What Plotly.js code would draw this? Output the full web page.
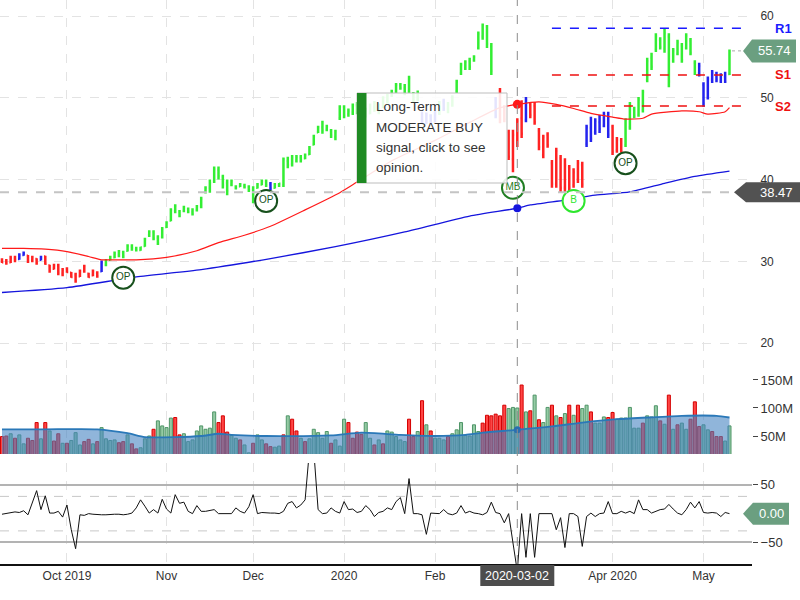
<!DOCTYPE html>
<html>
<head>
<meta charset="utf-8">
<script src="https://cdn.plot.ly/plotly-3.0.1.min.js"></script>
<style>
  html, body { margin: 0; padding: 0; background: #fff; }
  #chart { width: 800px; height: 600px; }
</style>
</head>
<body>
<div id="chart"></div>
<script>
// trading days, Sep 10 2019 .. May 11 2020 (exchange holidays skipped)
const holidays = ["2019-11-28", "2019-12-25", "2020-01-01", "2020-01-20", "2020-02-17", "2020-04-10"];
const dates = [];
(function () {
  const d = new Date(Date.UTC(2019, 8, 10));
  const end = Date.UTC(2020, 4, 11);
  while (d.getTime() <= end) {
    const s = d.toISOString().slice(0, 10);
    const wd = d.getUTCDay();
    if (wd !== 0 && wd !== 6 && holidays.indexOf(s) < 0) dates.push(s);
    d.setUTCDate(d.getUTCDate() + 1);
  }
})();

// price bars
const high = [
  30.4,30.3,30.7,30.7,31.0,31.2,30.8,30.7,30.4,30.7,
  30.7,29.6,29.7,29.7,29.2,29.3,28.7,28.6,29.0,29.6,
  28.6,29.0,28.8,30.1,30.3,30.7,31.2,31.4,31.3,32.1,
  32.1,31.8,31.8,32.9,33.8,33.8,33.2,34.2,34.9,36.5,
  37.0,36.3,36.8,36.6,36.5,36.9,37.9,39.2,40.0,41.6,
  41.6,40.6,40.0,40.0,39.3,39.6,39.5,39.3,39.2,39.6,
  40.0,40.0,39.7,39.6,39.6,42.7,42.8,43.0,43.0,43.0,
  43.2,44.1,45.5,46.6,47.2,46.7,46.2,46.1,49.1,49.1,
  48.7,49.3,49.5,49.0,48.8,49.3,49.6,49.3,50.2,50.5,
  51.0,51.8,51.8,51.7,52.7,50.7,50.9,48.3,48.2,48.0,
  48.4,49.6,49.9,49.5,50.3,52.2,54.3,54.6,54.9,55.2,
  58.1,59.1,58.9,56.7,50.1,51.2,49.1,46.1,46.1,47.5,
  49.7,50.1,49.5,49.5,46.3,45.5,45.8,42.4,43.9,43.0,
  42.6,41.8,41.4,42.4,42.2,46.7,47.7,47.5,47.9,48.3,
  48.3,46.7,45.2,45.1,47.5,49.5,48.9,50.1,51.0,54.9,
  55.5,57.9,57.4,58.5,57.9,56.1,57.1,56.7,57.9,57.3,
  54.6,54.3,51.9,52.6,53.4,53.2,53.0,53.2,55.9
];
const low = [
  29.8,29.6,29.8,29.9,30.2,30.7,29.8,29.9,29.6,30.1,
  29.6,28.6,29.0,28.3,28.2,28.6,28.0,27.4,28.1,28.6,
  28.0,28.2,28.0,28.7,29.4,30.1,30.4,30.5,30.4,31.2,
  31.3,31.2,31.3,31.8,33.0,32.6,32.0,32.8,34.1,34.9,
  35.9,35.4,36.0,35.9,35.6,36.1,36.5,38.3,38.4,39.6,
  40.0,38.9,38.1,39.2,38.8,39.1,38.9,38.5,37.1,38.9,
  39.3,39.1,38.7,38.9,39.1,39.1,41.4,41.6,42.1,42.1,
  42.5,43.0,44.2,45.7,45.6,45.9,45.1,44.8,47.3,47.5,
  47.7,47.9,48.0,47.8,47.6,48.0,48.3,48.0,48.8,49.3,
  50.1,50.6,51.0,50.3,50.6,49.5,49.6,46.9,46.8,46.7,
  47.0,47.9,48.4,48.1,48.9,50.6,52.8,53.4,53.4,54.4,
  55.9,57.1,56.1,52.8,47.5,46.9,47.0,42.4,40.9,44.0,
  45.1,47.0,47.5,46.7,43.6,42.6,43.9,39.0,39.0,38.5,
  38.4,38.5,39.0,39.6,39.0,44.0,44.6,45.5,45.7,46.4,
  45.1,43.0,43.3,43.3,44.0,46.1,47.5,47.7,48.2,51.9,
  53.4,55.6,55.9,55.5,51.3,54.3,55.2,54.3,55.9,55.2,
  52.8,52.6,48.9,49.8,51.8,51.9,51.8,51.8,52.8
];
const open = [
  30.2,30.0,29.9,30.4,30.3,30.8,30.7,30.1,30.3,30.2,
  30.6,29.5,29.1,29.5,28.5,29.1,28.6,28.3,28.2,28.8,
  28.5,28.3,28.6,28.8,29.6,30.2,30.5,30.8,31.1,31.3,
  31.8,31.5,31.4,31.9,33.2,33.6,32.9,33.0,34.2,35.0,
  36.2,36.1,36.2,36.4,36.0,36.3,36.7,38.5,39.0,39.8,
  41.2,40.3,39.6,39.4,39.1,39.2,39.2,39.1,38.8,39.0,
  39.4,39.8,39.4,39.0,39.3,39.3,42.3,41.9,42.3,42.7,
  42.6,43.1,44.3,45.8,46.4,46.1,46.0,45.2,47.5,48.9,
  48.0,48.2,49.1,48.2,48.6,48.1,48.9,49.2,48.9,49.6,
  50.3,50.8,51.5,51.2,50.8,50.5,49.8,48.1,47.0,47.8,
  47.1,48.1,49.5,48.6,49.1,50.8,53.0,53.6,54.5,54.6,
  56.1,57.5,58.7,56.3,49.8,50.8,48.8,45.8,42.5,44.5,
  47.5,47.3,49.2,49.0,46.0,43.0,45.5,42.0,39.5,42.6,
  39.0,41.5,39.3,40.0,41.8,44.4,46.3,45.8,47.0,46.6,
  48.0,46.4,43.6,44.8,44.2,46.4,48.6,47.9,48.5,52.2,
  54.9,55.9,57.1,56.0,57.5,54.5,55.4,56.4,56.1,57.0,
  54.3,53.0,51.6,50.0,52.2,53.0,52.1,52.6,52.9
];
const close = [
  29.9,29.8,30.4,30.2,30.8,31.0,30.0,30.5,29.8,30.5,
  29.7,28.8,29.5,28.6,29.0,28.7,28.1,27.6,28.8,29.4,
  28.1,28.8,28.2,29.9,30.1,30.5,31.0,31.2,30.6,31.9,
  31.6,31.4,31.7,32.7,33.6,32.8,32.2,34.0,34.7,36.3,
  36.8,35.6,36.6,36.1,35.8,36.7,37.7,39.0,39.6,41.3,
  40.4,39.3,38.6,39.8,39.0,39.4,39.1,38.7,37.6,39.4,
  39.8,39.3,38.9,39.4,39.5,42.5,41.8,42.7,42.8,42.4,
  43.0,43.9,45.3,46.4,46.0,46.5,45.4,45.9,48.9,47.8,
  48.4,49.1,48.3,48.6,47.9,49.0,49.4,48.3,50.0,50.3,
  50.8,51.6,51.2,50.6,52.4,49.8,50.6,47.2,47.9,47.0,
  48.1,49.4,48.7,49.2,50.1,52.0,54.0,54.4,53.8,55.0,
  57.8,58.9,56.6,53.3,47.8,47.3,47.4,42.8,45.5,47.2,
  45.6,49.8,47.9,47.0,44.0,45.2,44.2,39.5,43.5,39.0,
  41.8,39.0,40.9,42.0,39.4,46.4,45.0,47.2,46.2,48.0,
  45.5,43.4,44.9,43.5,47.3,49.2,47.8,49.8,50.7,54.5,
  53.8,57.5,56.2,57.9,52.0,55.8,56.8,54.6,57.6,55.5,
  53.1,53.9,49.3,52.3,53.1,52.2,52.8,52.0,55.74
];
// trend colour of each bar: g = bullish, r = bearish, b = neutral
const trend =
  "rrrrbbrrrb" + "rrrrrrrrrr" + "rrrbgggggg" + "gggggggggg" + "gggggggggg" +
  "gggggggggg" + "ggbggggggg" + "gggggggggg" + "gggggggggg" + "gggggggbbb" +
  "bgbggggggg" + "ggggbrrrrr" + "rbrrrrrrrr" + "rrrrrbbbbb" + "brrrgggggg" +
  "gggggggggg" + "gbbbbbbbg";

// volume in millions, and up / down day
const volume = [
  49,50,54,46,52,36,46,42,74,45,
  74,59,41,54,37,37,42,56,34,40,
  44,36,40,65,45,42,43,38,40,52,
  36,27,29,45,50,62,77,68,65,82,
  83,52,54,40,43,59,68,62,64,93,
  74,86,57,51,46,43,34,20,37,52,
  43,36,31,30,32,52,86,80,59,46,
  40,45,62,56,46,58,37,43,32,80,
  74,46,57,53,74,46,34,43,36,59,
  57,49,43,40,80,49,58,113,70,59,
  46,46,43,49,54,61,74,51,50,70,
  58,73,87,86,89,86,105,99,101,100,
  141,93,95,123,79,74,101,105,86,83,
  90,105,87,105,99,105,93,73,73,84,
  83,92,80,82,82,101,64,64,73,86,
  84,104,77,71,123,62,70,73,62,80,
  111,67,70,61,58,49,49,41,68
];
const volDir =
  "rrgrggrrrg" + "rgrrgrgggr" + "rgrggggrrg" + "rrgggrgggg" + "rrgggggggg" +
  "rrrggrggrg" + "grrggrgrrg" + "rgggggrggg" + "rrrrggrgrg" + "ggggrrgrgr" +
  "gggrgggggg" + "grrrrrrggg" + "rgrgrggrgr" + "grgrggrggg" + "rrggggggrg" +
  "ggrgrgrggr" + "rrggrrrgg";

// oscillator
const osc = [
  -1,0,1,3,2,5,-2,18,40,7,
  31,1,1,4,-6,15,-28,-61,-2,-3,
  0,-1,-2,-2,-2,-1,-1,-1,-2,-1,
  1,10,24,13,1,7,1,25,8,1,
  33,18,20,4,0,14,4,4,6,7,
  0,0,1,0,10,4,1,12,33,0,
  2,1,1,1,0,4,18,21,10,15,
  24,110,110,7,0,1,10,4,1,21,
  7,8,2,4,14,7,-5,2,4,10,
  7,21,28,0,61,0,0,-2,-36,1,
  1,0,7,0,-2,1,14,1,4,1,
  0,-2,2,20,2,0,-16,0,-51,-100,
  0,-76,0,-76,0,0,0,0,-28,-7,
  -59,0,0,-5,-57,-5,1,-5,0,1,
  21,0,0,4,1,4,0,24,7,7,
  1,4,7,8,16,8,1,-2,7,20,
  10,21,2,1,2,1,-5,2,0
];

// moving averages
const ma50Dates = ["2019-09-10","2019-09-17","2019-09-24","2019-10-01","2019-10-08","2019-10-11","2019-10-18",
  "2019-10-23","2019-11-01","2019-11-12","2019-11-19","2019-11-27","2019-12-06","2019-12-18","2019-12-31",
  "2020-01-07","2020-01-17","2020-02-03","2020-02-13","2020-02-25","2020-03-02","2020-03-09","2020-03-13",
  "2020-03-19","2020-03-25","2020-04-01","2020-04-06","2020-04-13","2020-04-15","2020-04-24","2020-04-30",
  "2020-05-04","2020-05-08","2020-05-11"];
const ma50 = [31.6,31.6,31.5,31.2,30.6,30.2,30.2,30.2,30.5,31.3,32.3,33.2,34.3,36.3,38.4,
  39.7,42.3,44.8,47.0,48.8,49.2,49.5,49.2,48.7,48.1,47.65,47.4,47.5,48.0,48.4,48.3,48.0,48.3,48.8];
const ma200Dates = ["2019-09-10","2019-10-01","2019-10-23","2019-11-13","2019-12-06","2019-12-30","2020-01-23",
  "2020-02-13","2020-03-02","2020-03-05","2020-03-17","2020-03-26","2020-04-07","2020-04-20","2020-04-29","2020-05-11"];
const ma200 = [26.2,26.8,28.1,29.0,30.35,31.8,33.6,35.55,36.5,36.9,37.5,38.1,38.5,39.55,40.4,41.05];
const volMaDates = ["2019-09-10","2019-09-24","2019-10-10","2019-10-21","2019-10-25","2019-11-05","2019-11-13",
  "2019-11-19","2019-11-22","2019-12-05","2019-12-27","2020-01-08","2020-01-22","2020-02-03","2020-02-12",
  "2020-02-19","2020-03-02","2020-03-12","2020-03-23","2020-04-02","2020-04-14","2020-04-24","2020-05-06","2020-05-11"];
const volMa = [62,62,62,55,48,48,50,54,52,50,51,56,52,50,52,56,61,67,74,80,83,86,86,83];

// signals
const sigDates = ["2019-10-18","2019-12-05","2020-02-28","2020-03-19","2020-04-06"];
const sigLevels = [28.0, 37.4, 39.0, 37.4, 42.0];
const sigLabels = ["OP", "OP", "MB", "B", "OP"];
const sigColors = ["#17501c", "#17501c", "#1f7d22", "#2ee62e", "#17501c"];

// pivot levels
const levelNames = ["R1", "S1", "S2"];
const levelValues = [58.5, 52.8, 49.0];
const levelColors = ["#1b1bff", "#ee1111", "#ee1111"];
const levelStart = "2020-03-12";

// month ticks
const tickDates = ["2019-10-01","2019-11-01","2019-12-02","2020-01-02","2020-02-03","2020-04-01","2020-05-01"];
const tickText = ["Oct 2019","Nov","Dec","2020","Feb","Apr 2020","May"];

const crossDate = "2020-03-02";
const crossPrice = 38.47;
const lastClose = close[close.length - 1];
const tipLines = ["Long-Term", "MODERATE BUY", "signal, click to see", "opinion."];

const FONT = "Arial, 'Liberation Sans', sans-serif";
const PW = 752, PH = 564;
const xp = v => v / PW;
const yp = v => 1 - v / PH;
const at = (ds, vs, d) => vs[ds.indexOf(d)];
const crossIdx = dates.indexOf(crossDate);

// ---------- traces ----------
const trendColor = { g: "#33ee33", r: "#ff2222", b: "#2323ee" };
const groups = { g: [], r: [], b: [] };
trend.split("").forEach((c, i) => groups[c].push(i));

const traces = [];
Object.keys(groups).forEach(c => {
  const ii = groups[c];
  traces.push({
    type: "ohlc", xaxis: "x", yaxis: "y",
    x: ii.map(i => dates[i]),
    open: ii.map(i => open[i]), high: ii.map(i => high[i]),
    low: ii.map(i => low[i]), close: ii.map(i => close[i]),
    increasing: { line: { color: trendColor[c], width: 2.5 } },
    decreasing: { line: { color: trendColor[c], width: 2.5 } },
    tickwidth: 0.3, hoverinfo: "skip"
  });
});

traces.push({
  type: "scatter", mode: "lines", x: ma50Dates, y: ma50, yaxis: "y",
  line: { color: "#ff1a1a", width: 1.2, shape: "spline", smoothing: 0.6 }, hoverinfo: "skip"
});
traces.push({
  type: "scatter", mode: "lines", x: ma200Dates, y: ma200, yaxis: "y",
  line: { color: "#1515dd", width: 1.3, shape: "spline", smoothing: 0.6 }, hoverinfo: "skip"
});

// volume
traces.push({
  type: "bar", x: dates, y: volume, yaxis: "y2", width: 0.7,
  marker: {
    color: volDir.split("").map(c => c === "g" ? "#95cba4" : "#ff4545"),
    line: { color: volDir.split("").map(c => c === "g" ? "#4f9568" : "#d40000"), width: 1 }
  },
  hoverinfo: "skip"
});
traces.push({
  type: "scatter", mode: "lines", x: volMaDates, y: volMa, yaxis: "y2",
  fill: "tozeroy", fillcolor: "rgba(70,132,194,0.6)",
  line: { color: "#2a78b8", width: 1.8, shape: "spline", smoothing: 0.6 }, hoverinfo: "skip"
});

// oscillator
traces.push({
  type: "scatter", mode: "lines", x: dates, y: osc, yaxis: "y3",
  line: { color: "#111", width: 1 }, hoverinfo: "skip"
});

// signal badges
traces.push({
  type: "scatter", mode: "markers+text", x: sigDates, y: sigLevels, yaxis: "y",
  text: sigLabels, textposition: "middle center",
  textfont: { family: FONT, size: 10, color: sigColors },
  marker: { symbol: "circle", size: 22, color: "#fff", line: { color: sigColors, width: 2 } },
  cliponaxis: false, hoverinfo: "skip"
});

// crosshair dots
traces.push({
  type: "scatter", mode: "markers", x: [crossDate], y: [at(ma50Dates, ma50, crossDate)], yaxis: "y",
  marker: { color: "#ff1a1a", size: 9 }, hoverinfo: "skip"
});
traces.push({
  type: "scatter", mode: "markers", x: [crossDate], y: [at(ma200Dates, ma200, crossDate)], yaxis: "y",
  marker: { color: "#1515dd", size: 8 }, hoverinfo: "skip"
});
traces.push({
  type: "scatter", mode: "markers", x: [crossDate], y: [at(volMaDates, volMa, crossDate)], yaxis: "y2",
  marker: { color: "#2a6fb0", size: 7 }, hoverinfo: "skip"
});

// ---------- shapes & annotations ----------
const shapes = [];
const annotations = [];

// oscillator +-30 dashed
[30, -30].forEach(v => shapes.push({
  type: "line", xref: "paper", yref: "y3", x0: 0, x1: 1, y0: v, y1: v,
  line: { color: "#c8c8c8", width: 1, dash: "dash" }, layer: "below"
}));

// pivot levels
levelValues.forEach((v, i) => {
  shapes.push({
    type: "line", xref: "x", yref: "y", x0: dates.indexOf(levelStart), x1: 172.3, y0: v, y1: v,
    line: { color: levelColors[i], width: 1.5, dash: "dash" }
  });
  annotations.push({
    xref: "paper", x: 1, xshift: 31, xanchor: "center", yref: "y", y: v, yanchor: "middle",
    showarrow: false, text: "<b>" + levelNames[i] + "</b>",
    font: { family: FONT, size: 13, color: levelColors[i] }
  });
});

// crosshair
shapes.push({
  type: "line", xref: "x", yref: "paper", x0: crossIdx, x1: crossIdx, y0: 0, y1: 1,
  line: { color: "#8c8c8c", width: 1, dash: "dash" }
});
shapes.push({
  type: "line", xref: "paper", yref: "y", x0: 0, x1: xp(736), y0: crossPrice, y1: crossPrice,
  line: { color: "#c4c4c4", width: 2, dash: "dash" }
});

// tooltip box
shapes.push({
  type: "rect", xref: "paper", yref: "paper", x0: xp(357), x1: xp(507), y0: yp(183), y1: yp(93),
  fillcolor: "rgba(255,255,255,0.88)", line: { color: "#bdbdbd", width: 1 }
});
shapes.push({
  type: "rect", xref: "paper", yref: "paper", x0: xp(357), x1: xp(366.5), y0: yp(183), y1: yp(93),
  fillcolor: "#1f8a23", line: { width: 0 }
});
tipLines.forEach((t, i) => annotations.push({
  xref: "paper", yref: "paper", x: xp(374), y: yp(107 + i * 20), xanchor: "left", yanchor: "middle",
  showarrow: false, text: t, font: { family: FONT, size: 13.5, color: "#333" }
}));

// value tags on the right
function tag(yref, yval, tip, x0, x1, half, color, label, cx) {
  shapes.push({
    type: "path", xref: "paper", xsizemode: "pixel", xanchor: 1,
    yref: yref, ysizemode: "pixel", yanchor: yval,
    path: `M ${tip},0 L ${x0},${half} L ${x1},${half} L ${x1},${-half} L ${x0},${-half} Z`,
    fillcolor: color, line: { width: 0 }
  });
  annotations.push({
    xref: "paper", x: 1, xshift: cx, xanchor: "center", yref: yref, y: yval, yanchor: "middle",
    showarrow: false, text: label, font: { family: FONT, size: 13, color: "#fff" }
  });
}
shapes.push({
  type: "line", xref: "paper", xsizemode: "pixel", xanchor: 1, x0: -20, x1: -9,
  yref: "y", y0: lastClose, y1: lastClose, line: { color: "#aaa", width: 1, dash: "dot" }
});
tag("y", lastClose, -9, 0, 44, 11.5, "#6b9f80", lastClose.toFixed(2), 22);
tag("y", crossPrice, -18, -6, 48, 10, "#525252", crossPrice.toFixed(2), 24);
tag("y3", osc[osc.length - 1], -9, 1, 37, 11, "#6b9f80", osc[osc.length - 1].toFixed(2), 19);

// date tag under the crosshair
shapes.push({
  type: "rect", xref: "x", xsizemode: "pixel", xanchor: crossIdx, x0: -37, x1: 37,
  yref: "paper", y0: yp(586), y1: yp(565), fillcolor: "#4d4d4d", line: { width: 0 }
});
annotations.push({
  xref: "x", x: crossIdx, xanchor: "center", yref: "paper", y: yp(575.5), yanchor: "middle",
  showarrow: false, text: crossDate, font: { family: FONT, size: 12.5, color: "#fff" }
});

const layout = {
  width: 800, height: 600,
  margin: { l: 0, r: 48, t: 0, b: 36 },
  paper_bgcolor: "#fff", plot_bgcolor: "#fff",
  showlegend: false,
  font: { family: FONT, color: "#333", size: 12 },
  xaxis: {
    type: "category", categoryorder: "array", categoryarray: dates,
    range: [-0.46, 173.2], anchor: "y3", rangeslider: { visible: false },
    tickmode: "array", tickvals: tickDates, ticktext: tickText,
    showgrid: true, gridcolor: "#e3e3e3", griddash: "dash", gridwidth: 1,
    showline: true, linecolor: "#111", linewidth: 1.5,
    ticks: "", tickfont: { size: 12, color: "#333" }, zeroline: false
  },
  yaxis: {
    domain: [yp(368), 1], range: [16.97, 61.96], side: "right", anchor: "x",
    tickvals: [20, 30, 40, 50, 60], showgrid: true, gridcolor: "#e3e3e3", griddash: "dash",
    ticks: "outside", ticklen: 5, tickcolor: "rgba(0,0,0,0)",
    tickfont: { size: 12, color: "#333" }, zeroline: false
  },
  yaxis2: {
    domain: [yp(454), yp(375)], range: [17.86, 158.9], side: "right", anchor: "x",
    tickvals: [50, 100, 150], ticktext: ["50M", "100M", "150M"], showgrid: false,
    ticks: "outside", ticklen: 5, tickcolor: "#444",
    tickfont: { size: 13, color: "#333" }, zeroline: false
  },
  yaxis3: {
    domain: [0, yp(463)], range: [-87.6, 88.1], side: "right", anchor: "x",
    tickvals: [-50, 50], showgrid: true, gridcolor: "#b3b3b3", gridwidth: 2,
    ticks: "outside", ticklen: 5, tickcolor: "#444",
    tickfont: { size: 13, color: "#333" }, zeroline: false
  },
  bargap: 0,
  shapes: shapes,
  annotations: annotations
};

Plotly.newPlot("chart", traces, layout, { staticPlot: true, displayModeBar: false });
</script>
</body>
</html>
